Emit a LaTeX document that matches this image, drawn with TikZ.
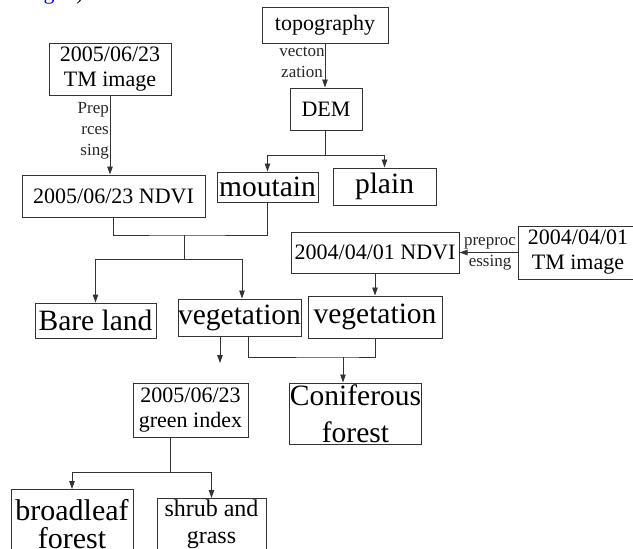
\documentclass[tikz,border=0pt]{standalone}
\usepackage{fontspec}
\setmainfont{Liberation Serif}
\usetikzlibrary{arrows.meta}
\begin{document}
\begin{tikzpicture}[x=1pt,y=-1pt,
  box/.style={draw=black!80,line width=1pt,inner sep=0pt,align=center,font=\fontsize{22}{25}\selectfont},
  big/.style={font=\fontsize{29.5}{37}\selectfont},
  lab/.style={inner sep=0pt,font=\fontsize{17}{21}\selectfont,text=black!85},
  con/.style={draw=black!80,line width=0.9pt},
  arr/.style={con,-{Triangle[length=8pt,width=5.5pt]}}]
\useasboundingbox (0,0) rectangle (633,549);
% cut-off caption above
\node[anchor=base,inner sep=0pt,text=blue,font=\fontsize{22}{25}\selectfont] (capg) at (49,-1) {g};
\node[anchor=base,inner sep=0pt,font=\fontsize{22}{25}\selectfont] (capp) at (80,-1) {)};
% boxes
\node[box,minimum width=122pt,minimum height=52pt] (tm05) at (110,69) {2005/06/23\\TM image};
\node[box,minimum width=183pt,minimum height=42pt] (ndvi05) at (113.5,196) {2005/06/23 NDVI};
\node[box,minimum width=126pt,minimum height=36pt] (topo) at (325,25) {topography};
\node[box,minimum width=72pt,minimum height=42pt] (dem) at (326,109) {DEM};
\node[box,big,minimum width=101pt,minimum height=30pt] (mout) at (267.5,187) {moutain};
\node[box,big,minimum width=103pt,minimum height=37pt] (plain) at (384.5,186.5) {plain};
\node[box,minimum width=168pt,minimum height=41pt] (ndvi04) at (375,252.5) {2004/04/01 NDVI};
\node[box,minimum width=120pt,minimum height=53pt] (tm04) at (578,252.5) {2004/04/01\\TM image};
\node[box,big,minimum width=121pt,minimum height=35pt] (bare) at (95.5,320.5) {Bare land};
\node[box,big,minimum width=123pt,minimum height=37pt] (veg1) at (239.5,317.5) {vegetation};
\node[box,big,minimum width=134pt,minimum height=42pt] (veg2) at (375,317) {vegetation};
\node[box,big,minimum width=129pt,minimum height=61pt] (conif) at (355.5,413.5) {Coniferous\\forest};
\node[box,minimum width=115pt,minimum height=54pt] (green) at (190.5,410) {2005/06/23\\green index};
\node[box,anchor=north,font=\fontsize{30}{28}\selectfont,minimum width=122pt,inner ysep=10pt,text depth=20pt] (broad) at (72,489) {broadleaf\\forest};
\node[box,anchor=north,font=\fontsize{24}{27}\selectfont,minimum width=109pt,inner ysep=1pt,text depth=20pt] (shrub) at (211.5,498) {shrub and\\grass};
% labels
\node[lab,align=right,anchor=north east] (lprep) at (109,102) {Prep\\rces\\sing};
\node[lab,align=center,anchor=north] (lvec) at (302,47) {vecton\\zation};
\node[lab,align=center,anchor=north] (lpre) at (490,237) {preproc\\essing};
% connectors
\draw[arr] (tm05.south) -- (tm05.south |- ndvi05.north);
\draw[arr] (topo.south) -- (topo.south |- dem.north);
\coordinate (jdem) at (325,155);
\draw[con] (dem.south -| jdem) -- (jdem);
\draw[con] (mout.north |- jdem) -- (plain.north |- jdem);
\draw[arr] (mout.north |- jdem) -- (mout.north);
\draw[arr] (plain.north |- jdem) -- (plain.north);
\coordinate (j1) at (184,235);
\draw[con] (ndvi05.south) |- (j1) -| (mout.south);
\coordinate (j2) at (184,259);
\coordinate (j2r) at (242,259);
\draw[con] (j1) -- (j2);
\draw[con] (bare.north |- j2) -- (j2r);
\draw[arr] (bare.north |- j2) -- (bare.north);
\draw[arr] (j2r) -- (j2r |- veg1.north);
\draw[arr] (tm04.west) -- (ndvi04.east);
\draw[arr] (ndvi04.south) -- (veg2.north);
\coordinate (vend) at (220,363);
\draw[arr] (vend |- veg1.south) -- (vend);
\coordinate (j3) at (343,357);
\draw[con] ([xshift=8.5pt]veg1.south) |- (j3) -| (veg2.south);
\draw[arr] (j3) -- (j3 |- conif.north);
\coordinate (j4) at (170,472);
\draw[con] (j4 |- green.south) -- (j4);
\draw[con] (broad.north |- j4) -- (shrub.north |- j4);
\draw[arr] (broad.north |- j4) -- (broad.north);
\draw[arr] (shrub.north |- j4) -- (shrub.north);
\end{tikzpicture}
\end{document}
